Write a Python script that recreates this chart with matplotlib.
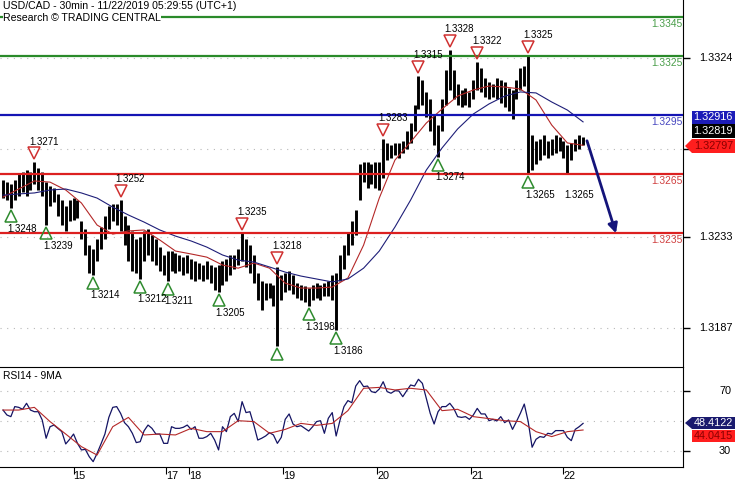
import matplotlib.pyplot as plt
from matplotlib.patches import Polygon
from matplotlib.transforms import offset_copy, blended_transform_factory

plt.rcParams['font.family'] = ['Liberation Sans', 'DejaVu Sans']

# USD/CAD 30min, one entry per hour (two 30min bars)
highs = [1.3262, 1.3261, 1.3260, 1.3262, 1.3265, 1.3266, 1.3267, 1.3266, 1.3271, 1.3268,
         1.3266, 1.3261, 1.3259, 1.3258, 1.3255, 1.3252, 1.3249, 1.3252, 1.3253, 1.3252,
         1.3241, 1.3237, 1.3229, 1.3227, 1.3232, 1.3238, 1.3244, 1.3249, 1.3250, 1.3250,
         1.3252, 1.3244, 1.3239, 1.3236, 1.3232, 1.3233, 1.3236, 1.3237, 1.3234, 1.3232,
         1.3228, 1.3224, 1.3226, 1.3226, 1.3225, 1.3224, 1.3223, 1.3224, 1.3222, 1.3221,
         1.3220, 1.3219, 1.3221, 1.3219, 1.3218, 1.3219, 1.3221, 1.3222, 1.3224, 1.3224,
         1.3227, 1.3235, 1.3232, 1.3229, 1.3224, 1.3215, 1.3211, 1.3210, 1.3210, 1.3209,
         1.3218, 1.3214, 1.3215, 1.3216, 1.3214, 1.3210, 1.3209, 1.3208, 1.3207, 1.3209,
         1.3210, 1.3209, 1.3210, 1.3211, 1.3214, 1.3215, 1.3224, 1.3229, 1.3235, 1.3241,
         1.3247, 1.3270, 1.3271, 1.3271, 1.3270, 1.3271, 1.3271, 1.3283, 1.3281, 1.3280,
         1.3281, 1.3281, 1.3282, 1.3287, 1.3291, 1.3300, 1.3315, 1.3313, 1.3307, 1.3303,
         1.3295, 1.3290, 1.3303, 1.3318, 1.3328, 1.3318, 1.3311, 1.3308, 1.3309, 1.3307,
         1.3313, 1.3322, 1.3319, 1.3314, 1.3312, 1.3311, 1.3314, 1.3313, 1.3312, 1.3309,
         1.3308, 1.3313, 1.3319, 1.3320, 1.3325, 1.3285, 1.3282, 1.3283, 1.3285, 1.3282,
         1.3283, 1.3285, 1.3284, 1.3282, 1.3280, 1.3281, 1.3283, 1.3285, 1.3284]
lows = [1.3253, 1.3252, 1.3248, 1.3252, 1.3254, 1.3256, 1.3254, 1.3257, 1.3260, 1.3257,
        1.3254, 1.3239, 1.3249, 1.3251, 1.3244, 1.3239, 1.3236, 1.3241, 1.3242, 1.3243,
        1.3232, 1.3224, 1.3215, 1.3214, 1.3221, 1.3227, 1.3232, 1.3237, 1.3241, 1.3239,
        1.3236, 1.3229, 1.3221, 1.3216, 1.3215, 1.3212, 1.3221, 1.3224, 1.3221, 1.3219,
        1.3216, 1.3214, 1.3211, 1.3216, 1.3215, 1.3216, 1.3214, 1.3215, 1.3212, 1.3211,
        1.3212, 1.3211, 1.3212, 1.3210, 1.3206, 1.3205, 1.3209, 1.3211, 1.3214, 1.3217,
        1.3219, 1.3221, 1.3218, 1.3215, 1.3210, 1.3201, 1.3196, 1.3201, 1.3202, 1.3198,
        1.3178, 1.3201, 1.3205, 1.3206, 1.3204, 1.3202, 1.3201, 1.3200, 1.3198, 1.3201,
        1.3202, 1.3201, 1.3203, 1.3203, 1.3201, 1.3186, 1.3211, 1.3217, 1.3224, 1.3229,
        1.3234, 1.3252, 1.3261, 1.3258, 1.3260, 1.3258, 1.3257, 1.3263, 1.3272, 1.3273,
        1.3275, 1.3273, 1.3276, 1.3278, 1.3281, 1.3287, 1.3298, 1.3300, 1.3294, 1.3287,
        1.3280, 1.3274, 1.3287, 1.3300, 1.3308, 1.3303, 1.3300, 1.3299, 1.3300, 1.3299,
        1.3303, 1.3308, 1.3307, 1.3304, 1.3303, 1.3304, 1.3303, 1.3301, 1.3299, 1.3297,
        1.3293, 1.3303, 1.3308, 1.3310, 1.3265, 1.3267, 1.3270, 1.3272, 1.3275, 1.3273,
        1.3275, 1.3276, 1.3277, 1.3273, 1.3265, 1.3272, 1.3277, 1.3278, 1.3280]

# moving averages, read every 4th point
ma_idx = list(range(0, 149, 4))
ma_fast = [1.32534, 1.32575, 1.32616, 1.32610, 1.32570, 1.32504, 1.32392, 1.32346, 1.32362, 1.32367,
           1.32316, 1.32260, 1.32245, 1.32229, 1.32189, 1.32173, 1.32199, 1.32173, 1.32097, 1.32072,
           1.32072, 1.32077, 1.32123, 1.32290, 1.32529, 1.32722, 1.32814, 1.32910, 1.32981, 1.33047,
           1.33078, 1.33098, 1.33093, 1.33083, 1.33027, 1.32900, 1.32809, 1.32797]
ma_slow = [1.32544, 1.32550, 1.32555, 1.32570, 1.32575, 1.32555, 1.32529, 1.32483, 1.32443, 1.32407,
           1.32367, 1.32336, 1.32311, 1.32280, 1.32240, 1.32214, 1.32204, 1.32179, 1.32153, 1.32133,
           1.32118, 1.32103, 1.32118, 1.32173, 1.32260, 1.32382, 1.32519, 1.32671, 1.32783, 1.32880,
           1.32956, 1.33007, 1.33047, 1.33068, 1.33063, 1.33017, 1.32976, 1.32916]

rsi = [57.3, 54.0, 52.9, 59.6, 59.1, 57.8, 61.8, 57.3, 56.2, 56.2,
       50.7, 38.5, 46.2, 47.3, 45.1, 42.9, 34.7, 37.8, 41.3, 35.1,
       30.7, 31.1, 26.2, 22.9, 28.4, 34.7, 41.3, 52.4, 59.1, 59.6,
       55.1, 48.9, 46.2, 41.8, 35.6, 36.2, 43.5, 47.3, 45.1, 41.3,
       41.3, 35.1, 35.1, 46.2, 45.1, 45.1, 45.8, 47.3, 44.4, 46.2,
       38.5, 38.5, 39.6, 41.8, 37.3, 30.7, 46.2, 42.9, 52.9, 55.1,
       49.6, 62.9, 55.6, 56.2, 47.3, 37.3, 38.5, 40.0, 42.2, 40.7,
       35.1, 39.1, 51.1, 54.7, 48.0, 46.2, 46.9, 45.1, 43.3, 46.2,
       49.6, 50.2, 41.8, 51.8, 55.6, 40.0, 50.7, 59.6, 63.6, 62.2,
       73.3, 76.9, 72.9, 73.3, 69.6, 68.9, 71.3, 76.2, 69.6, 68.5,
       70.2, 70.0, 66.2, 70.2, 74.0, 73.3, 77.8, 75.1, 65.1, 55.1,
       48.0, 56.2, 59.6, 59.6, 61.8, 58.4, 52.9, 52.4, 52.9, 51.1,
       54.0, 58.4, 54.7, 54.7, 50.2, 51.1, 50.0, 52.9, 48.9, 50.7,
       44.4, 49.6, 55.1, 61.3, 49.6, 32.5, 37.8, 39.6, 39.1, 41.8,
       41.3, 43.6, 43.6, 43.6, 39.1, 36.9, 44.4, 46.2, 48.4]
rsi_ma = [57.3, 57.3, 59.1, 49.6, 41.3, 32.9, 27.3, 46.2, 52.4, 40.7,
          41.3, 40.7, 45.1, 42.9, 42.9, 50.2, 49.6, 41.8, 44.4, 48.4,
          47.1, 48.4, 56.9, 71.8, 72.4, 70.7, 71.8, 70.7, 56.9, 57.8,
          52.9, 51.6, 50.2, 49.6, 42.9, 39.6, 42.9, 44.0]

levels = [1.3345, 1.3325, 1.3295, 1.3265, 1.3235]
level_colors = ['#2a8a2a', '#2a8a2a', '#1414b4', '#dc2020', '#dc2020']
level_text = ['#4a9e4a', '#4a9e4a', '#4848c0', '#d04040', '#d04040']

peak_idx = [8, 30, 61, 70, 97, 106, 114, 121, 134]
trough_idx = [2, 11, 23, 35, 42, 55, 70, 78, 85, 111, 134]
trough_nolabel = [70]
label_only_idx = [144]

day_pos = [18, 41.5, 47.5, 71.5, 95.5, 119.5, 143]
day_labels = ['15', '17', '18', '19', '20', '21', '22']
price_ticks = [1.3187, 1.3233, 1.3278, 1.3324]
price_labels = ['1.3187', '1.3233', '', '1.3324']  # 1.3278 sits under the value tags
rsi_ticks = [30, 70]

last_close = 1.32819
last_rsi = 48.4122
last_rsi_ma = 44.0415
arrow_from = (149.0, 1.3282)
arrow_to = (156.4, 1.3235)

W, H = 735, 480
x = list(range(len(highs)))

fig = plt.figure(figsize=(W / 100, H / 100), dpi=100)
ax = fig.add_axes([0, 113 / H, 683 / W, 367 / H])
ax2 = fig.add_axes([0, 13 / H, 683 / W, 100 / H])
for a in (ax, ax2):
    a.set_xlim(-0.77, 173.5)
    a.spines['left'].set_visible(False)
    a.yaxis.tick_right()
    a.tick_params(axis='y', direction='out', length=5, width=1, labelright=False, labelleft=False)
ax.spines['top'].set_visible(False)
ax.spines['bottom'].set_visible(False)
ax.set_ylim(1.31671, 1.33535)
ax2.set_ylim(19.33, 86)

# price panel
ax.set_yticks(price_ticks)
ax.grid(axis='y', color='#b8b8b8', ls=(0, (1, 5)), lw=0.8)
ax.set_xticks([])
ax.vlines(x, lows, highs, color='black', lw=2.1, zorder=2)
ax.plot(ma_idx, ma_fast, color='#b42828', lw=0.8, zorder=3)
ax.plot(ma_idx, ma_slow, color='#1e1e78', lw=0.8, zorder=3)

lab_tr = blended_transform_factory(ax.transAxes, ax.transData)
for lv, c, tc in zip(levels, level_colors, level_text):
    ax.axhline(lv, color=c, lw=1.6, zorder=4)
    ax.text(0.999, lv, f'{lv:.4f}', color=tc, fontsize=7.4, ha='right', va='top',
            transform=offset_copy(lab_tr, fig=fig, y=-1.5, units='points'), zorder=5)

for i in peak_idx:
    ax.plot(i, highs[i], marker='v', ms=8.5, mfc='none', mec='#d03030', mew=1.1,
            transform=offset_copy(ax.transData, fig=fig, y=6.5, units='points'), zorder=5)
    ax.text(i, highs[i], f'{highs[i]:.4f}', fontsize=7, ha='left', va='center',
            transform=offset_copy(ax.transData, fig=fig, x=-3.6, y=15, units='points'), zorder=5)
for i in trough_idx:
    ax.plot(i, lows[i], marker='^', ms=8.5, mfc='none', mec='#2e8b2e', mew=1.1,
            transform=offset_copy(ax.transData, fig=fig, y=-5.8, units='points'), zorder=5)
for i in [t for t in trough_idx if t not in trough_nolabel] + label_only_idx:
    ax.text(i, lows[i], f'{lows[i]:.4f}', fontsize=7, ha='left', va='center',
            transform=offset_copy(ax.transData, fig=fig, x=-2.2, y=-15, units='points'), zorder=5)

ax.annotate('', xy=arrow_to, xytext=arrow_from,
            arrowprops=dict(arrowstyle='-|>', color='#14147a', lw=2, mutation_scale=14,
                            shrinkA=0, shrinkB=0), zorder=6)

tick_tr = blended_transform_factory(fig.transFigure, ax.transData)
for t, s in zip(price_ticks, price_labels):
    if s:
        ax.text(733 / W, t, s, fontsize=7.8, ha='right', va='center',
                transform=tick_tr, clip_on=False)

# rsi panel
ax2.set_yticks(rsi_ticks)
ax2.set_yticks([50], minor=True)
ax2.tick_params(axis='y', which='minor', length=0)
ax2.grid(axis='y', which='both', color='#b8b8b8', ls=(0, (1, 5)), lw=0.8)
ax2.plot(x, rsi, color='#141464', lw=0.9)
ax2.plot(ma_idx, rsi_ma, color='#b42828', lw=0.8)
rsi_tr = blended_transform_factory(fig.transFigure, ax2.transData)
for t in rsi_ticks:
    ax2.text(731 / W, t, str(t), fontsize=7.8, ha='right', va='center',
             transform=rsi_tr, clip_on=False)
ax2.text(3 / 683, 0.96, 'RSI14 - 9MA', fontsize=7.4, va='top', transform=ax2.transAxes)
ax2.set_xticks(day_pos)
ax2.set_xticklabels(day_labels, fontsize=7.8, ha='left')
ax2.tick_params(axis='x', direction='out', length=5, pad=-2)

# header
fig.text(3 / W, 1 - 1 / H, 'USD/CAD - 30min - 11/22/2019 05:29:55 (UTC+1)', fontsize=7.6,
         va='top', bbox=dict(fc='white', ec='none', pad=0.3))
fig.text(3 / W, 1 - 13 / H, 'Research \u00a9 TRADING CENTRAL', fontsize=7.6,
         va='top', bbox=dict(fc='white', ec='none', pad=0.3))


# value tags on the right edge, coordinates in pixels from top left
def tag(y0, y1, text, fc, tc, arrow=False):
    pts = [(692, y0), (735, y0), (735, y1), (692, y1)]
    if arrow:
        pts.append((685, (y0 + y1) / 2))
    fig.add_artist(Polygon([(px / W, 1 - py / H) for px, py in pts], closed=True,
                           fc=fc, ec='none', transform=fig.transFigure))
    fig.text(733 / W, 1 - (y0 + y1) / 2 / H, text, color=tc, fontsize=7.8,
             ha='right', va='center')


tag(111, 124, f'{ma_slow[-1]:.5f}', '#1c1cb8', 'white')
tag(124, 138, f'{last_close:.5f}', 'black', 'white')
tag(139, 153, f'{ma_fast[-1]:.5f}', '#ff1e1e', '#8a0000', arrow=True)
tag(417, 429, f'{last_rsi:.4f}', '#1a1a6e', 'white', arrow=True)
tag(430, 442, f'{last_rsi_ma:.4f}', '#ff1e1e', '#8a0000')

fig.savefig('out.png', dpi=100)
